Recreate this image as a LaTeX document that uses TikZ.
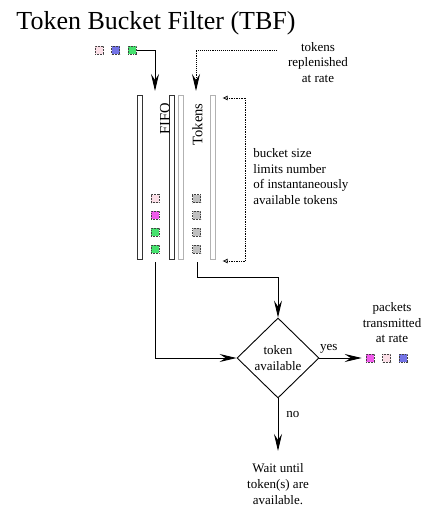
\documentclass[tikz,border=0pt]{standalone}
\usepackage{fontspec}
\setmainfont{Liberation Serif}
\usetikzlibrary{shapes.geometric, arrows.meta, positioning}

\definecolor{pktpink}{RGB}{250,222,230}
\definecolor{pktmagenta}{RGB}{240,90,235}
\definecolor{pktgreen}{RGB}{70,225,110}
\definecolor{pktblue}{RGB}{115,115,230}
\definecolor{tokgray}{RGB}{192,192,192}

\tikzset{
  pkt/.style={draw=black!75, densely dotted, line width=0.6pt, minimum size=8pt, inner sep=0pt},
  tok/.style={pkt, fill=tokgray},
  fifowall/.style={draw=black!80, fill=white, line width=0.7pt, minimum width=5pt, minimum height=164pt, inner sep=0pt},
  tokwall/.style={fifowall, draw=black!30},
  txt/.style={align=center, inner sep=0pt, font=\fontsize{13}{15.5}\selectfont},
  tubename/.style={rotate=90, anchor=east, inner sep=0pt, font=\fontsize{14.5}{16}\selectfont},
  decision/.style={diamond, draw, line width=0.9pt, align=center, inner sep=0pt, aspect=1,
    minimum width=82pt, minimum height=80pt, font=\fontsize{13}{15.5}\selectfont},
  bracket/.style={densely dotted, line width=0.7pt, {Latex[open,length=5pt,width=5pt]}-{Latex[open,length=5pt,width=5pt]}}
}

\begin{document}
\begin{tikzpicture}[x=1pt, y=-1pt, >={Stealth[length=17pt,width=8pt,inset=6pt]}, line width=0.9pt]
    \useasboundingbox (0,0) rectangle (433,514);

    % Nodes
    \node[anchor=base west, inner sep=0pt, font=\fontsize{26}{30}\selectfont] (title) at (16,29.5) {Token Bucket Filter (TBF)};

    \node[pkt, fill=pktpink] (in1) at (99,50) {};
    \node[pkt, fill=pktblue, right=8pt of in1] (in2) {};
    \node[pkt, fill=pktgreen, right=8pt of in2] (in3) {};

    \node[txt] (refilltxt) at (318,62.5) {tokens\\replenished\\at rate};

    \node[fifowall] (fifoL) at (140,177) {};
    \node[fifowall] (fifoR) at (172,177) {};
    \node[tokwall] (tokL) at (181,177) {};
    \node[tokwall] (tokR) at (213,177) {};
    \node[tubename] (fifoname) at (165,103) {FIFO};
    \node[tubename] (tokname) at (197.5,103) {Tokens};

    \node[pkt, fill=pktpink] (q1) at (155,198.5) {};
    \node[pkt, fill=pktmagenta, below=8.3pt of q1] (q2) {};
    \node[pkt, fill=pktgreen, below=8.3pt of q2] (q3) {};
    \node[pkt, fill=pktgreen, below=8.3pt of q3] (q4) {};

    \node[tok] (t1) at (196.5,198.5) {};
    \node[tok, below=8.3pt of t1] (t2) {};
    \node[tok, below=8.3pt of t2] (t3) {};
    \node[tok, below=8.3pt of t3] (t4) {};

    \node[txt, align=left, anchor=west] (sizetxt) at (253,176.5) {bucket size\\limits number\\of instantaneously\\available tokens};

    \node[decision] (avail) at (278,358) {token\\available};

    \node[txt] (sendtxt) at (392,323) {packets\\transmitted\\at rate};
    \node[pkt, fill=pktmagenta] (out1) at (370,358) {};
    \node[pkt, fill=pktpink, right=8pt of out1] (out2) {};
    \node[pkt, fill=pktblue, right=8pt of out2] (out3) {};

    \node[txt, font=\fontsize{13}{16}\selectfont] (wait) at (278,484) {Wait until\\token(s) are\\available.};

    \coordinate (fifoin) at (155,91);
    \coordinate (tokin) at (196,91);
    \coordinate (refill) at (277,50);
    \coordinate (fifoout) at (155,262);
    \coordinate (tokout) at (197,262);
    \coordinate (btop) at (222.5,98);
    \coordinate (bbot) at (222.5,261);

    % Paths
    \draw[->] (in3.east) -| (fifoin);
    \draw[->, densely dotted] (refill) -| (tokin);
    \draw[bracket] (btop) -- ++(23,0) |- (bbot);

    \draw[->] (fifoout) |- (avail.west);
    \draw[->] (tokout) -- ++(0,15) -| (avail.north);

    \draw[->, shorten >=4pt] (avail.east) -- node[pos=0.2, above=4pt, inner sep=0pt, font=\fontsize{13}{15}\selectfont] {yes} (out1.west);
    \draw[->, shorten >=12pt] (avail.south) -- node[pos=0.25, right=8pt, inner sep=0pt, font=\fontsize{13}{15}\selectfont] {no} (wait.north);
\end{tikzpicture}
\end{document}
